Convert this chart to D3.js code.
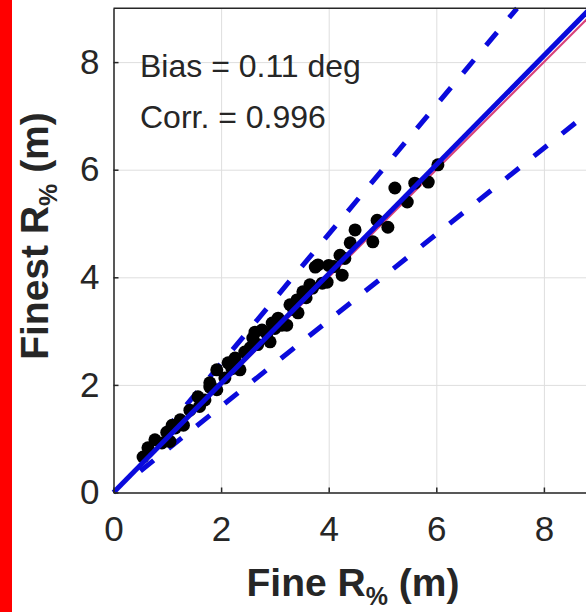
<!DOCTYPE html>
<html lang="en">
<head>
<meta charset="utf-8">
<title>Fine vs Finest R%</title>
<script src="https://d3js.org/d3.v7.min.js"></script>
<style>
body { margin: 0; background: #fff; }
svg text { font-family: "Liberation Sans", Arial, sans-serif; fill: #262626; }
.grid line { stroke: #dedede; stroke-width: 1; }
.grid path { display: none; }
.axis path, .axis line { stroke: #262626; stroke-width: 1.5; }
</style>
</head>
<body>
<svg id="chart" width="586" height="612"></svg>
<script>
// values
var fineR   = [0.55, 0.64, 0.77, 0.99, 1.09, 1.24, 1.05, 1.30, 1.42, 1.57, 1.60, 1.79, 1.92, 1.79, 2.07, 1.92, 2.35, 2.13,
               2.26, 2.44, 2.54, 2.59, 2.63, 2.76, 2.91, 2.95, 3.06, 3.13, 3.22, 3.28, 3.43, 3.41, 3.52, 3.65,
               3.88, 3.97, 3.75, 4.25, 3.80, 4.00, 4.10, 4.21, 4.40, 4.49, 4.82, 5.10, 4.90, 5.46, 5.23, 5.60, 5.85, 6.03,
               1.70, 2.20, 2.68, 2.85, 3.00, 3.35, 3.58, 3.70, 4.30, 1.15, 0.90];
var finestR = [0.66, 0.83, 0.98, 1.12, 1.25, 1.35, 0.95, 1.25, 1.53, 1.78, 1.60, 1.96, 1.91, 2.04, 2.13, 2.28, 2.28, 2.41,
               2.50, 2.61, 2.69, 2.87, 2.98, 3.02, 2.80, 3.15, 3.24, 3.11, 3.11, 3.49, 3.34, 3.58, 3.73, 3.86,
               3.89, 3.91, 4.19, 4.04, 4.23, 4.22, 4.20, 4.41, 4.64, 4.88, 4.66, 4.93, 5.06, 5.40, 5.66, 5.75, 5.77, 6.09,
               1.72, 2.30, 2.75, 2.95, 3.05, 3.40, 3.62, 3.80, 4.35, 1.20, 0.92];
var tickVals = [0, 2, 4, 6, 8];
var fitSlope = 1.015, fitIcpt = 0.0;
var bandLo = 0.8, bandHi = 1.2;
var notes = ["Bias = 0.11 deg", "Corr. = 0.996"];

var svg = d3.select('svg');
var x = d3.scaleLinear().domain([0, 9]).range([113.5, 597.7]),
    y = d3.scaleLinear().domain([0, 9]).range([492.5, 8.3]);

// red strip at left edge
svg.append('rect').attr('x', 0).attr('y', 0).attr('width', 12).attr('height', 612).attr('fill', '#ff0000');

// grid
svg.append('g').attr('class', 'grid')
  .attr('transform', 'translate(0,' + y(0) + ')')
  .call(d3.axisBottom(x).tickValues(tickVals).tickSize(-(y(0) - y(9))).tickFormat(''));
svg.append('g').attr('class', 'grid')
  .attr('transform', 'translate(' + x(0) + ',0)')
  .call(d3.axisLeft(y).tickValues(tickVals).tickSize(-(x(9) - x(0))).tickFormat(''));

var plot = svg.append('g');

// 1:1 line
plot.append('line')
  .attr('x1', x(0)).attr('y1', y(0)).attr('x2', x(9)).attr('y2', y(9))
  .attr('stroke', '#d8407a').attr('stroke-width', 2);

// +/- 20% lines
[bandHi, bandLo].forEach(function(k) {
  var xe = Math.min(9, 9 / k);
  plot.append('line')
    .attr('x1', x(0.5)).attr('y1', y(0.5 * k)).attr('x2', x(xe)).attr('y2', y(xe * k))
    .attr('stroke', '#0a0adc').attr('stroke-width', 5).attr('stroke-dasharray', '17,19');
});

// points
plot.selectAll('circle')
  .data(fineR)
  .enter().append('circle')
    .attr('cx', function(d) { return x(d); })
    .attr('cy', function(d, i) { return y(finestR[i]); })
    .attr('r', 6.5)
    .attr('fill', '#000');

// fit line
var xEnd = (9 - fitIcpt) / fitSlope;
plot.append('line')
  .attr('x1', x(0)).attr('y1', y(fitIcpt)).attr('x2', x(xEnd)).attr('y2', y(9))
  .attr('stroke', '#0a0adc').attr('stroke-width', 5);

// axes
var xAxis = svg.append('g').attr('class', 'axis')
  .attr('transform', 'translate(0,' + y(0) + ')')
  .call(d3.axisBottom(x).tickValues(tickVals).tickSize(-5).tickPadding(24).tickSizeOuter(0));
xAxis.selectAll('text').attr('font-size', 35).attr('fill', '#262626');
var yAxis = svg.append('g').attr('class', 'axis')
  .attr('transform', 'translate(' + x(0) + ',0)')
  .call(d3.axisLeft(y).tickValues(tickVals).tickSize(-5).tickPadding(14).tickSizeOuter(0));
yAxis.selectAll('text').attr('font-size', 35).attr('fill', '#262626');
svg.append('line').attr('x1', x(0)).attr('x2', x(9)).attr('y1', y(9)).attr('y2', y(9))
  .attr('stroke', '#262626').attr('stroke-width', 1.5);

// annotations
svg.selectAll('.note')
  .data(notes)
  .enter().append('text')
    .attr('class', 'note')
    .attr('x', 140)
    .attr('y', function(d, i) { return 77 + i * 51; })
    .attr('font-size', 32)
    .text(function(d) { return d; });

// axis labels
function label(t, name) {
  t.attr('font-weight', 'bold').attr('font-size', 39).attr('text-anchor', 'middle');
  t.append('tspan').text(name + ' R');
  t.append('tspan').attr('font-size', 25).attr('dy', 9).text('%');
  t.append('tspan').attr('dy', -9).text(' (m)');
}
svg.append('text').attr('x', 353).attr('y', 596).call(label, 'Fine');
svg.append('text').attr('transform', 'translate(48,236) rotate(-90)').call(label, 'Finest');
</script>
</body>
</html>
